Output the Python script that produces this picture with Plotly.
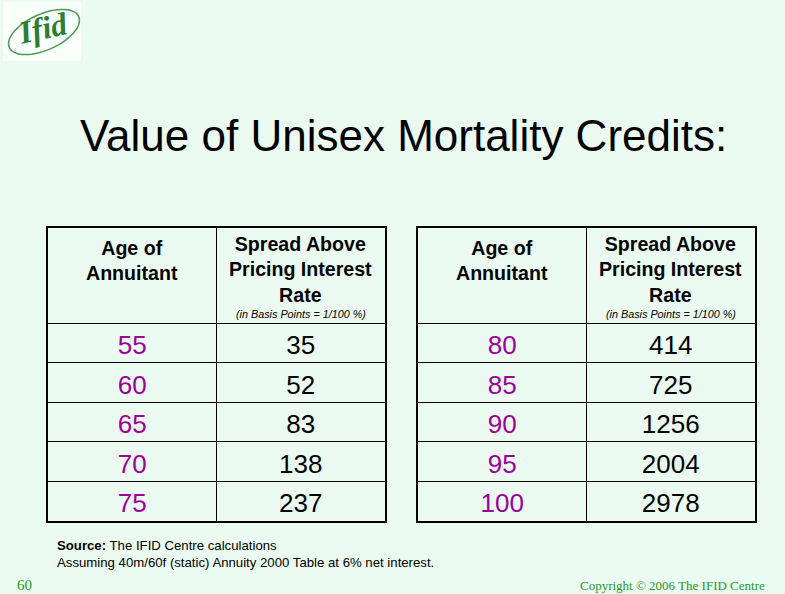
import numpy as np
import plotly.graph_objects as go

# ---- data ----
ages_left = ["55", "60", "65", "70", "75"]
spread_left = ["35", "52", "83", "138", "237"]
ages_right = ["80", "85", "90", "95", "100"]
spread_right = ["414", "725", "1256", "2004", "2978"]

col_head_1 = "<b>Age of<br>Annuitant</b>"
col_head_2 = "<b>Spread Above<br>Pricing Interest<br>Rate</b>"
col_head_note = "<i>(in Basis Points = 1/100 %)</i>"
title_text = "Value of Unisex Mortality Credits:"
source_text = "<b>Source:</b> The IFID Centre calculations<br>Assuming 40m/60f (static) Annuity 2000 Table at 6% net interest."
page_no = "60"
copyright_text = "Copyright © 2006 The IFID Centre"

W, Hpx = 785, 594
BG = "#ECFBF1"
PURPLE = "#9C009C"
GREEN = "#1E9A2A"
FONT = "Arial, Liberation Sans, sans-serif"
SERIF = "Times New Roman, Liberation Serif, serif"

HDR = 2.4       # header height in row units
TXT_SHIFT = 0.62  # vertical placement of cell text within a row

def px(x):
    return x / W

def py(y):
    return 1 - y / Hpx

fig = go.Figure()

tables = [
    (ages_left, spread_left, "x", "y", [px(48), px(385)]),
    (ages_right, spread_right, "x2", "y2", [px(418), px(755)]),
]
ydom = [py(521), py(228)]

annotations = []
for i, (ages, spreads, xa, ya, xdom) in enumerate(tables):
    n = len(ages)
    rows = [HDR + k + TXT_SHIFT for k in range(n)]
    fig.add_trace(go.Scatter(
        x=[0.5] * n, y=rows, text=ages, mode="text",
        textfont=dict(family=FONT, size=26, color=PURPLE),
        xaxis=xa, yaxis=ya, hoverinfo="skip", showlegend=False))
    fig.add_trace(go.Scatter(
        x=[1.5] * n, y=rows, text=spreads, mode="text",
        textfont=dict(family=FONT, size=26, color="black"),
        xaxis=xa, yaxis=ya, hoverinfo="skip", showlegend=False))
    suffix = "" if i == 0 else "2"
    ax = dict(range=[0, 2], tickvals=[1], showgrid=True, gridcolor="black", gridwidth=1,
              showticklabels=False, ticks="", showline=True, mirror=True, linecolor="black",
              linewidth=2, zeroline=False, domain=xdom, fixedrange=True,
              anchor="y" + suffix)
    ay = dict(range=[HDR + n, 0], tickvals=[HDR + k for k in range(n)], showgrid=True,
              gridcolor="black", gridwidth=1, showticklabels=False, ticks="", showline=True,
              mirror=True, linecolor="black", linewidth=2, zeroline=False, domain=ydom,
              fixedrange=True, anchor="x" + suffix)
    fig.update_layout(**{"xaxis" + suffix: ax, "yaxis" + suffix: ay})
    annotations += [
        dict(x=0.5, y=0.81, xref=xa, yref=ya, text=col_head_1, showarrow=False,
             font=dict(family=FONT, size=19.6, color="black"), yanchor="middle"),
        dict(x=1.5, y=1.06, xref=xa, yref=ya, text=col_head_2, showarrow=False,
             font=dict(family=FONT, size=19.6, color="black"), yanchor="middle"),
        dict(x=1.5, y=2.17, xref=xa, yref=ya, text=col_head_note, showarrow=False,
             font=dict(family=FONT, size=10.8, color="black"), yanchor="middle"),
    ]

annotations += [
    dict(x=px(403), y=py(135), xref="paper", yref="paper", text=title_text, showarrow=False,
         font=dict(family=FONT, size=44, color="black"), xanchor="center", yanchor="middle"),
    dict(x=px(55), y=py(536), xref="paper", yref="paper", text=source_text, showarrow=False,
         font=dict(family=FONT, size=13.2, color="black"), xanchor="left", yanchor="top",
         align="left"),
    dict(x=px(15), y=py(585), xref="paper", yref="paper", text=page_no, showarrow=False,
         font=dict(family=SERIF, size=15, color=GREEN), xanchor="left", yanchor="middle"),
    dict(x=px(767), y=py(585), xref="paper", yref="paper", text=copyright_text, showarrow=False,
         font=dict(family=SERIF, size=13, color=GREEN), xanchor="right", yanchor="middle"),
    dict(x=px(43), y=py(28), xref="paper", yref="paper", text="<b><i>Ifid</i></b>", showarrow=False,
         font=dict(family=SERIF, size=32, color="#2E7D32"), xanchor="center",
         yanchor="middle", textangle=-12),
]

# logo ellipse (decorative)
t = np.linspace(0, 2 * np.pi, 60)
cx, cy, a, b, ang = 44, 32, 38, 18, np.deg2rad(-24)
ex = cx + a * np.cos(t) * np.cos(ang) - b * np.sin(t) * np.sin(ang)
ey = cy + a * np.cos(t) * np.sin(ang) + b * np.sin(t) * np.cos(ang)
path = "M " + " L ".join(f"{px(xx):.5f},{py(yy):.5f}" for xx, yy in zip(ex, ey)) + " Z"

shapes = [
    dict(type="rect", xref="paper", yref="paper", x0=px(3), x1=px(81), y0=py(61), y1=py(2),
         fillcolor="#F9FFFA", line=dict(width=0), layer="below"),
    dict(type="path", xref="paper", yref="paper", path=path,
         line=dict(color="#4A9A50", width=1.5)),
]

fig.update_layout(
    width=W, height=Hpx, margin=dict(l=0, r=0, t=0, b=0),
    paper_bgcolor=BG, plot_bgcolor="rgba(0,0,0,0)",
    annotations=annotations, shapes=shapes, showlegend=False,
)

fig.write_html("out.html", config={"displayModeBar": False},
               post_script="document.body.style.margin='0';document.body.style.overflow='hidden';")
